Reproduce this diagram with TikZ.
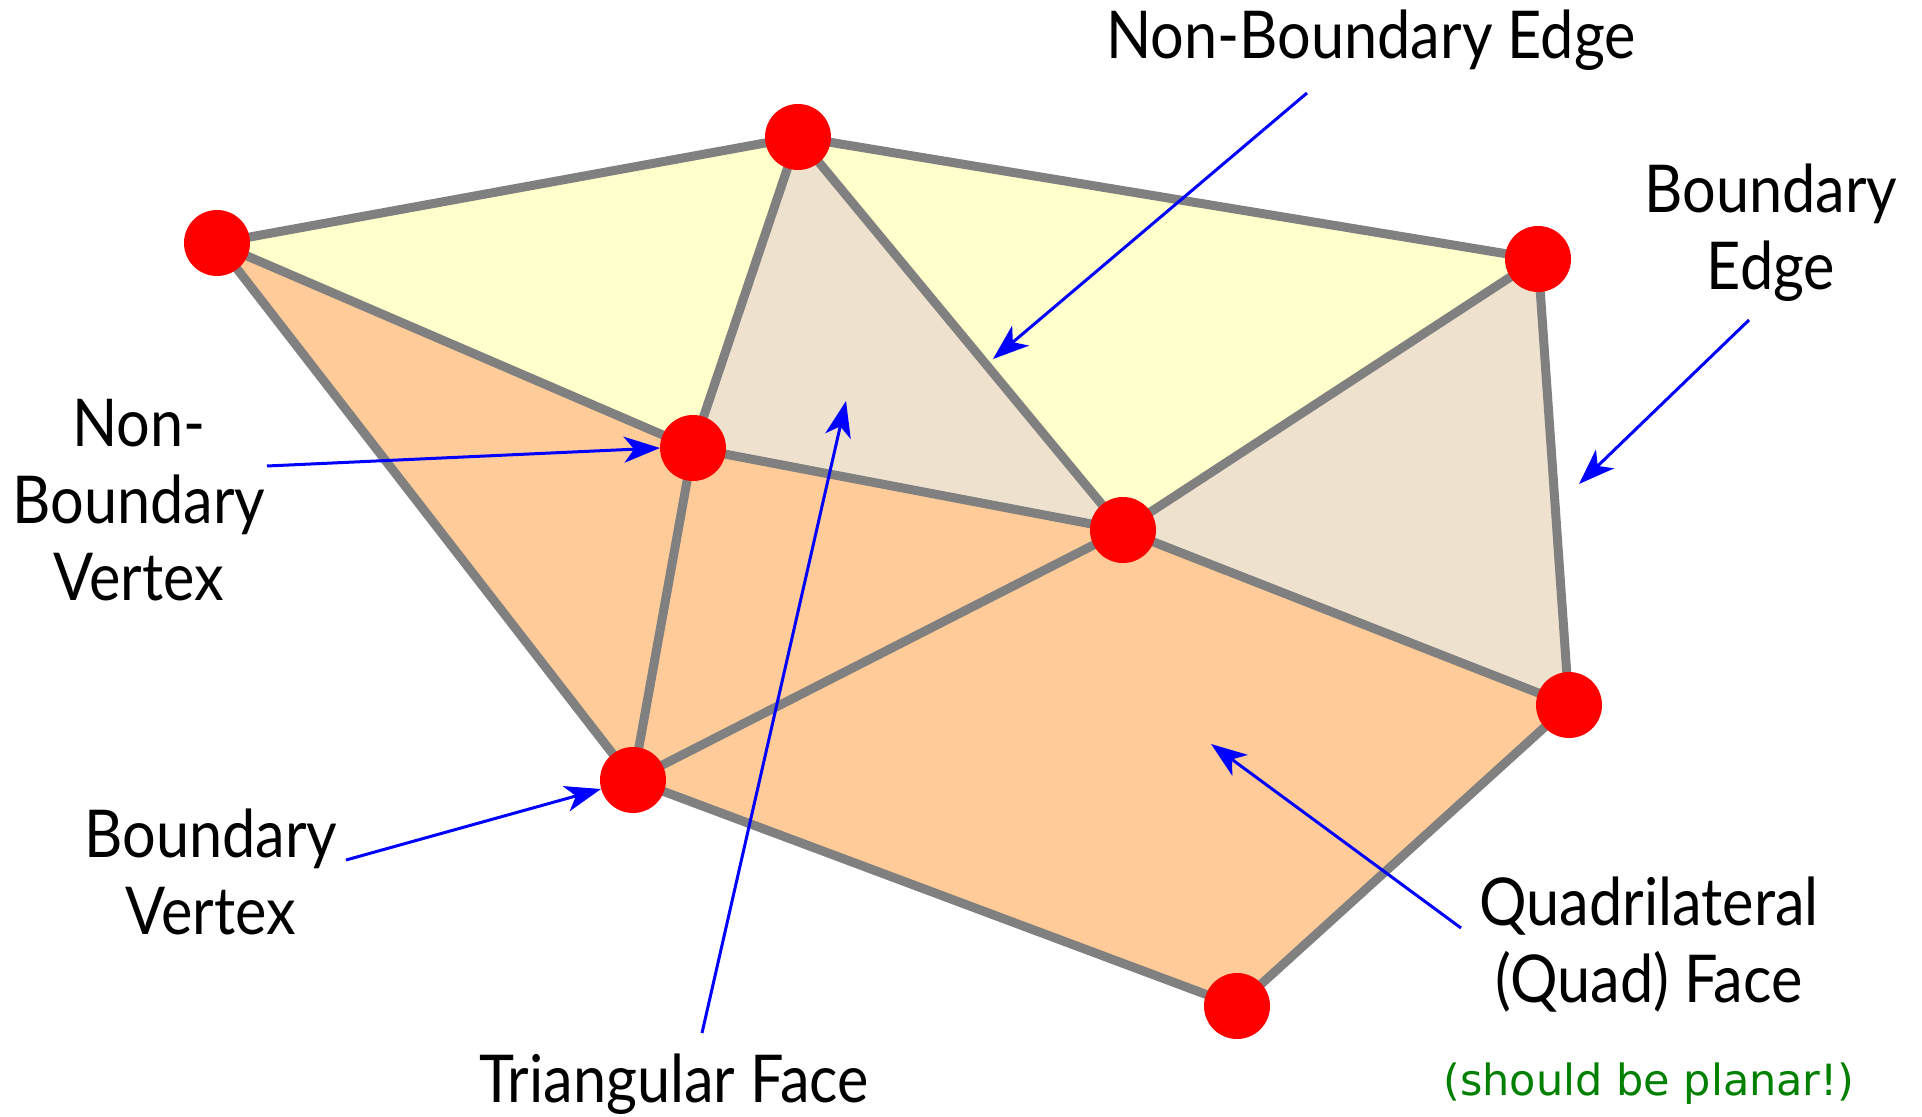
\documentclass[tikz,border=0pt]{standalone}
\usepackage{fontspec}
\setmainfont[FakeStretch=0.9]{Lato}
\newfontfamily\notefont{DejaVu Sans}
\usetikzlibrary{arrows.meta}

\definecolor{faceyellow}{RGB}{255,255,204}
\definecolor{facetan}{RGB}{238,225,206}
\definecolor{faceorange}{RGB}{255,204,153}
\definecolor{notegreen}{RGB}{0,128,0}

\begin{document}
\begin{tikzpicture}[x=0.5pt,y=-0.5pt,
  edge/.style={gray, line width=4.5pt, line join=round},
  pointer/.style={blue, line width=1.5pt, -{Stealth[length=18pt,width=13pt,inset=5pt]}},
  lbl/.style={font=\fontsize{33}{38.5}\selectfont, align=center, inner sep=0pt}]
\useasboundingbox (0,0) rectangle (1922,1117);
% mesh vertices
\coordinate (A) at (217,243);
\coordinate (B) at (798,137);
\coordinate (C) at (1538,259);
\coordinate (D) at (693,448);
\coordinate (E) at (1123,530);
\coordinate (F) at (1569,705);
\coordinate (G) at (633,780);
\coordinate (H) at (1237,1006);
% faces
\fill[faceyellow] (A) -- (B) -- (D) -- cycle;
\fill[faceyellow] (B) -- (C) -- (E) -- cycle;
\fill[facetan] (B) -- (D) -- (E) -- cycle;
\fill[facetan] (C) -- (E) -- (F) -- cycle;
\fill[faceorange] (A) -- (D) -- (G) -- cycle;
\fill[faceorange] (D) -- (E) -- (G) -- cycle;
\fill[faceorange] (G) -- (E) -- (F) -- (H) -- cycle;
% edges
\draw[edge] (A) -- (B) -- (C) -- (F) -- (H) -- (G) -- cycle;
\draw[edge] (A) -- (D) -- (B) -- (E) -- (C);
\draw[edge] (D) -- (E) -- (F);
\draw[edge] (D) -- (G) -- (E);
\foreach \v in {A,...,H}
  \fill[red] (\v) circle (16.5pt);
% labels
\node[lbl] (nbedge) at (1371,40) {Non-Boundary Edge};
\node[lbl] (bedge) at (1771,233) {Boundary\\Edge};
\node[lbl] (nbvert) at (139,500) {Non-\\Boundary\\Vertex};
\node[lbl] (bvert) at (211,872) {Boundary\\Vertex};
\node[lbl] (triface) at (674,1084) {Triangular Face};
\node[lbl] (quadface) at (1649,945) {Quadrilateral\\(Quad) Face};
\node[font=\notefont\fontsize{21.5}{24}\selectfont, text=notegreen, inner sep=0pt] (planar) at (1649,1084) {(should be planar!)};
% pointers
\coordinate (nbedge-tail) at (1307,93);
\coordinate (nbedge-tip) at (993,359);
\coordinate (bedge-tail) at (1749,320);
\coordinate (bedge-tip) at (1579,484);
\coordinate (nbvert-tail) at (267,466);
\coordinate (bvert-tail) at (346,860);
\coordinate (bvert-tip) at (601,789);
\coordinate (triface-tail) at (702,1033);
\coordinate (triface-tip) at (846,401);
\coordinate (quadface-tail) at (1461,928);
\coordinate (quadface-tip) at (1211,744);
\draw[pointer] (nbedge-tail) -- (nbedge-tip);
\draw[pointer] (bedge-tail) -- (bedge-tip);
\draw[pointer] (nbvert-tail) -- ([xshift=-16.5pt]D);
\draw[pointer] (bvert-tail) -- (bvert-tip);
\draw[pointer] (triface-tail) -- (triface-tip);
\draw[pointer] (quadface-tail) -- (quadface-tip);
\end{tikzpicture}
\end{document}
